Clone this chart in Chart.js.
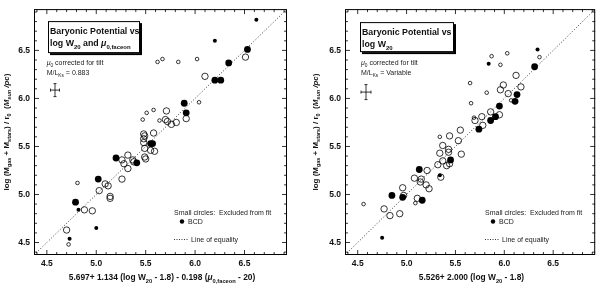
<!DOCTYPE html>
<html>
<head>
<meta charset="utf-8">
<script src="https://cdn.jsdelivr.net/npm/chart.js@4.4.1/dist/chart.umd.min.js"></script>
<style>
  body { margin: 0; background: #fff; }
  canvas { position: absolute; top: 0; }
  #left { left: 0; }
  #right { left: 300px; }
</style>
</head>
<body>
<canvas id="left" width="300" height="285"></canvas>
<canvas id="right" width="300" height="285"></canvas>
<script>
// axis range and tick labels (same for both panels)
const axisMin = 4.37;
const axisMax = 6.93;
const tickValues = [4.5, 5.0, 5.5, 6.0, 6.5];
const equalityLine = [axisMin, axisMax];

// left panel: big open = fit, small open = excluded, filled = BCD
const leftFitOpenX = [6.51, 6.10, 5.91, 5.81, 5.71, 5.70, 5.72, 5.76, 5.48, 5.49, 5.48, 5.58, 5.48, 5.49, 5.55, 5.59, 5.49, 5.50, 5.32, 5.26, 5.28, 5.32, 5.37, 5.38, 5.26, 5.09, 5.12, 5.03, 5.14, 5.14, 4.88, 4.96, 4.70];
const leftFitOpenY = [6.43, 6.23, 5.79, 5.75, 5.87, 5.78, 5.76, 5.73, 5.63, 5.61, 5.58, 5.64, 5.54, 5.48, 5.46, 5.45, 5.39, 5.37, 5.41, 5.36, 5.32, 5.27, 5.36, 5.34, 5.16, 5.11, 5.09, 5.04, 4.98, 4.96, 4.84, 4.83, 4.63];
const leftFitFilledX = [6.53, 6.34, 6.20, 6.26, 5.89, 5.91, 5.55, 5.57, 5.20, 5.41, 5.02, 4.79];
const leftFitFilledY = [6.51, 6.37, 6.19, 6.19, 5.95, 5.85, 5.53, 5.53, 5.38, 5.33, 5.16, 4.92];
const leftExclOpenX = [5.62, 5.67, 5.83, 6.02, 6.04, 5.58, 5.51, 5.64, 5.47, 4.81, 4.72];
const leftExclOpenY = [6.38, 6.41, 6.38, 6.41, 5.96, 5.88, 5.85, 5.77, 5.78, 5.12, 4.48];
const leftExclFilledX = [6.62, 6.20, 4.82, 5.00, 4.73];
const leftExclFilledY = [6.82, 6.60, 4.84, 4.65, 4.54];

// right panel
const rightFitOpenX = [6.12, 5.99, 5.96, 6.17, 6.04, 5.86, 5.95, 5.77, 5.70, 5.78, 5.55, 5.44, 5.53, 5.37, 5.43, 5.43, 5.34, 5.56, 5.37, 5.44, 5.41, 5.32, 5.21, 5.35, 5.08, 5.15, 5.14, 5.20, 5.23, 4.96, 4.97, 5.11, 4.77, 4.93, 4.83];
const rightFitOpenY = [6.24, 6.14, 6.09, 6.12, 6.05, 5.86, 5.83, 5.81, 5.77, 5.72, 5.67, 5.61, 5.56, 5.51, 5.47, 5.44, 5.43, 5.42, 5.35, 5.32, 5.30, 5.31, 5.25, 5.18, 5.17, 5.16, 5.13, 5.10, 5.06, 5.07, 4.99, 4.96, 4.85, 4.80, 4.78];
const rightFitFilledX = [6.31, 6.13, 6.11, 5.95, 5.91, 5.86, 5.74, 5.45, 5.13, 4.85, 4.96, 5.16];
const rightFitFilledY = [6.33, 6.04, 5.97, 5.92, 5.81, 5.77, 5.68, 5.36, 5.26, 4.99, 4.97, 4.94];
const rightExclOpenX = [6.36, 5.87, 6.03, 5.96, 5.65, 5.82, 6.07, 5.66, 5.69, 5.34, 5.09, 4.56];
const rightExclOpenY = [6.43, 6.44, 6.47, 6.35, 6.16, 6.06, 5.98, 5.95, 5.80, 5.60, 4.91, 4.90];
const rightExclFilledX = [6.34, 5.84, 5.34, 4.75];
const rightExclFilledY = [6.51, 6.36, 5.20, 4.55];

const FONT = '"Liberation Sans", Arial, sans-serif';
const INK = '#111';

function zip(xs, ys) {
  return xs.map((x, i) => ({ x: x, y: ys[i] }));
}

// draw text made of segments: [text, style] with style '', 'i', 's', 'is'
function drawRich(ctx, segs, x, y, size, weight, align) {
  const fontFor = st => (st.includes('i') ? 'italic ' : '') + weight + ' ' +
    (st.includes('s') ? (size * 0.68).toFixed(2) : size) + 'px ' + FONT;
  let w = 0;
  segs.forEach(([t, st]) => { ctx.font = fontFor(st); w += ctx.measureText(t).width; });
  let cx = align === 'center' ? x - w / 2 : x;
  ctx.textBaseline = 'alphabetic';
  ctx.textAlign = 'left';
  segs.forEach(([t, st]) => {
    ctx.font = fontFor(st);
    ctx.fillText(t, cx, y + (st.includes('s') ? size * 0.3 : 0));
    cx += ctx.measureText(t).width;
  });
}

function decorPlugin(cfg) {
  return {
    id: 'decor',
    afterDraw(chart) {
      const ctx = chart.ctx;
      const a = chart.chartArea;
      const sx = chart.scales.x, sy = chart.scales.y;
      ctx.save();
      ctx.strokeStyle = '#000';
      ctx.fillStyle = INK;

      // frame
      ctx.lineWidth = 1;
      ctx.strokeRect(a.left + 0.5, a.top + 0.5, a.right - a.left - 1, a.bottom - a.top - 1);

      // inward ticks on all four sides
      ctx.lineWidth = 0.8;
      ctx.beginPath();
      for (let k = 44; k <= 69; k++) {
        const v = k / 10;
        const len = k % 5 === 0 ? 5 : 3;
        const px = sx.getPixelForValue(v);
        const py = sy.getPixelForValue(v);
        ctx.moveTo(px, a.bottom); ctx.lineTo(px, a.bottom - len);
        ctx.moveTo(px, a.top); ctx.lineTo(px, a.top + len);
        ctx.moveTo(a.left, py); ctx.lineTo(a.left + len, py);
        ctx.moveTo(a.right, py); ctx.lineTo(a.right - len, py);
      }
      ctx.stroke();

      // title box with shadow
      const b = cfg.box;
      ctx.fillStyle = '#000';
      ctx.fillRect(a.left + b.x + 2, a.top + b.y + 2, b.w, b.h);
      ctx.fillStyle = '#fff';
      ctx.fillRect(a.left + b.x, a.top + b.y, b.w, b.h);
      ctx.lineWidth = 1;
      ctx.strokeRect(a.left + b.x + 0.5, a.top + b.y + 0.5, b.w - 1, b.h - 1);
      ctx.fillStyle = INK;
      drawRich(ctx, [['Baryonic Potential vs', '']], a.left + b.x + 2, a.top + b.y + 13, 8.8, 'bold', 'left');
      drawRich(ctx, cfg.titleLine2, a.left + b.x + 2, a.top + b.y + 25, 8.8, 'bold', 'left');

      // notes
      ctx.fillStyle = '#222';
      drawRich(ctx, [['μ', 'i'], ['0', 's'], [' corrected for tilt', '']], a.left + cfg.noteX, a.top + 56, 7, 'normal', 'left');
      drawRich(ctx, [['M/L', ''], ['Ks', 's'], [cfg.mlText, '']], a.left + cfg.noteX, a.top + 65.5, 7, 'normal', 'left');

      // error cross
      const e = cfg.err;
      const ex = a.left + e.x, ey = a.top + e.y;
      ctx.strokeStyle = '#000';
      ctx.lineWidth = 0.8;
      ctx.beginPath();
      ctx.moveTo(ex - e.hx, ey); ctx.lineTo(ex + e.hx, ey);
      ctx.moveTo(ex, ey - e.hy); ctx.lineTo(ex, ey + e.hy);
      ctx.moveTo(ex - e.hx, ey - 1.5); ctx.lineTo(ex - e.hx, ey + 1.5);
      ctx.moveTo(ex + e.hx, ey - 1.5); ctx.lineTo(ex + e.hx, ey + 1.5);
      ctx.moveTo(ex - 1.5, ey - e.hy); ctx.lineTo(ex + 1.5, ey - e.hy);
      ctx.moveTo(ex - 1.5, ey + e.hy); ctx.lineTo(ex + 1.5, ey + e.hy);
      ctx.stroke();

      // legend
      const lx = a.left + 140;
      ctx.fillStyle = '#222';
      drawRich(ctx, [['Small circles:  Excluded from fit', '']], lx, 215, 7, 'normal', 'left');
      ctx.fillStyle = '#000';
      ctx.beginPath();
      ctx.arc(lx + 8, 221.5, 2.2, 0, Math.PI * 2);
      ctx.fill();
      ctx.fillStyle = '#222';
      drawRich(ctx, [['BCD', '']], lx + 14, 223.5, 7, 'normal', 'left');
      ctx.setLineDash([1, 1.5]);
      ctx.beginPath();
      ctx.moveTo(lx, 239.5); ctx.lineTo(lx + 14, 239.5);
      ctx.stroke();
      ctx.setLineDash([]);
      drawRich(ctx, [['Line of equality', '']], lx + 17, 241.5, 7, 'normal', 'left');

      // axis titles
      ctx.fillStyle = INK;
      drawRich(ctx, cfg.xTitle, cfg.xTitleX, 280, 8.4, 'bold', 'center');
      ctx.translate(cfg.yTitleX, (a.top + a.bottom) / 2);
      ctx.rotate(-Math.PI / 2);
      drawRich(ctx, [['log (M', ''], ['gas', 's'], [' + M', ''], ['stars', 's'], [') / r', ''], ['0', 's'],
        ['  (', ''], ['M', 'i'], ['sun', 'is'], [' /pc', 'i'], [')', '']], 0, 0, 8, 'bold', 'center');
      ctx.restore();
    }
  };
}

function makePanel(id, p) {
  const tickOpts = {
    padding: 4,
    color: INK,
    font: { family: FONT, size: 8.5, weight: 'bold' },
    callback: v => Number(v).toFixed(1)
  };
  new Chart(document.getElementById(id), {
    type: 'scatter',
    data: {
      datasets: [
        { data: zip(p.fitOpenX, p.fitOpenY), pointRadius: 3.2, borderWidth: 0.8, borderColor: '#000', backgroundColor: 'rgba(0,0,0,0)' },
        { data: zip(p.exclOpenX, p.exclOpenY), pointRadius: 1.8, borderWidth: 0.8, borderColor: '#000', backgroundColor: 'rgba(0,0,0,0)' },
        { data: zip(p.fitFilledX, p.fitFilledY), pointRadius: 3.4, borderWidth: 0, backgroundColor: '#000' },
        { data: zip(p.exclFilledX, p.exclFilledY), pointRadius: 2.0, borderWidth: 0, backgroundColor: '#000' },
        {
          type: 'line', data: zip(equalityLine, equalityLine), borderColor: '#000', borderWidth: 0.8,
          borderDash: [1, 2], pointRadius: 0, fill: false
        }
      ]
    },
    options: {
      responsive: false,
      animation: false,
      events: [],
      layout: { padding: { left: 0, right: p.padRight, top: 3, bottom: 0 } },
      plugins: { legend: { display: false }, tooltip: { enabled: false } },
      scales: {
        x: {
          type: 'linear', min: axisMin, max: axisMax,
          afterBuildTicks: s => { s.ticks = tickValues.map(v => ({ value: v })); },
          afterFit: s => { s.height = 30; },
          grid: { display: false, drawTicks: false },
          border: { display: false },
          ticks: tickOpts
        },
        y: {
          type: 'linear', min: axisMin, max: axisMax,
          afterBuildTicks: s => { s.ticks = tickValues.map(v => ({ value: v })); },
          afterFit: s => { s.width = p.yWidth; },
          grid: { display: false, drawTicks: false },
          border: { display: false },
          ticks: tickOpts
        }
      }
    },
    plugins: [decorPlugin(p)]
  });
}

makePanel('left', {
  fitOpenX: leftFitOpenX, fitOpenY: leftFitOpenY,
  fitFilledX: leftFitFilledX, fitFilledY: leftFitFilledY,
  exclOpenX: leftExclOpenX, exclOpenY: leftExclOpenY,
  exclFilledX: leftExclFilledX, exclFilledY: leftExclFilledY,
  yWidth: 34, padRight: 13,
  box: { x: 14, y: 12, w: 92, h: 32 },
  titleLine2: [['log W', ''], ['20', 's'], [' and ', ''], ['μ', 'i'], ['0,faceon', 's']],
  noteX: 12.7, mlText: ' = 0.883',
  err: { x: 21, y: 81, hx: 4.5, hy: 6.5 },
  xTitle: [['5.697+ 1.134 (log W', ''], ['20', 's'], [' - 1.8) - 0.198 (', ''], ['μ', 'i'], ['0,faceon', 's'], [' - 20)', '']],
  xTitleX: 162, yTitleX: 9
});

makePanel('right', {
  fitOpenX: rightFitOpenX, fitOpenY: rightFitOpenY,
  fitFilledX: rightFitFilledX, fitFilledY: rightFitFilledY,
  exclOpenX: rightExclOpenX, exclOpenY: rightExclOpenY,
  exclFilledX: rightExclFilledX, exclFilledY: rightExclFilledY,
  yWidth: 45, padRight: 4,
  box: { x: 15, y: 13, w: 94, h: 30 },
  titleLine2: [['log W', ''], ['20', 's']],
  noteX: 16, mlText: ' = Variable',
  err: { x: 21, y: 83, hx: 5, hy: 7.5 },
  xTitle: [['5.526+ 2.000 (log W', ''], ['20', 's'], [' - 1.8)', '']],
  xTitleX: 171.5, yTitleX: 18
});
</script>
</body>
</html>
